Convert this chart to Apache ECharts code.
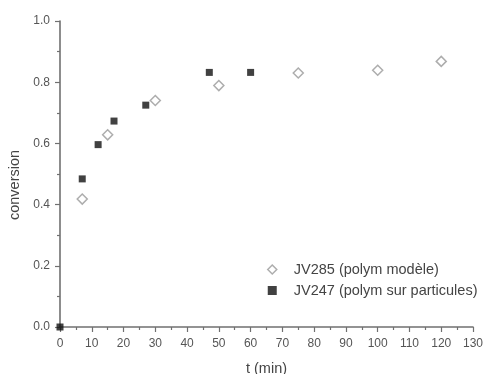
<!DOCTYPE html>
<html><head><meta charset="utf-8">
<script src="https://cdn.jsdelivr.net/npm/echarts@6/dist/echarts.min.js"></script>
<style>html,body{margin:0;padding:0;background:#fff}#c{width:485px;height:374px}</style>
</head><body><div id="c"></div>
<script>
const modeleT = [7, 15, 30, 50, 75, 100, 120];
const modeleConv = [0.418, 0.628, 0.74, 0.789, 0.83, 0.839, 0.868];
const particT = [0, 7, 12, 17, 27, 47, 60];
const particConv = [0, 0.484, 0.596, 0.673, 0.725, 0.832, 0.832];
const nameModele = 'JV285 (polym modèle)';
const nameParti = 'JV247 (polym sur particules)';

const chart = echarts.init(document.getElementById('c'), null, {renderer: 'canvas'});
const axisCol = '#707070';
const labCol = '#555';
const font = 'Liberation Sans, Arial, sans-serif';
chart.setOption({
  animation: false,
  backgroundColor: '#fff',
  grid: {left: 60, top: 21, right: 12, bottom: 47, containLabel: false, outerBoundsMode: 'none'},
  legend: {
    orient: 'vertical', left: 267, top: 262, itemWidth: 9, itemHeight: 9, itemGap: 6, padding: 0,
    textStyle: {color: '#444', fontSize: 14.5, lineHeight: 14, fontFamily: font, padding: [0, 0, 0, 12]},
    data: [
      {name: nameModele, icon: 'diamond', itemStyle: {color: '#fff', borderColor: '#999', borderWidth: 1.5}},
      {name: nameParti, icon: 'rect', itemStyle: {color: '#111'}}
    ]
  },
  xAxis: {
    type: 'value', min: 0, max: 130, interval: 10,
    name: 't (min)', nameLocation: 'middle', nameGap: 34,
    nameTextStyle: {color: '#444', fontSize: 14.5, fontFamily: font},
    axisLine: {show: true, onZero: false, lineStyle: {color: axisCol, width: 1.6}},
    axisTick: {show: true, length: 5, lineStyle: {color: axisCol, width: 1.2}},
    minorTick: {show: true, splitNumber: 2, length: 3, lineStyle: {color: axisCol, width: 1.2}},
    axisLabel: {color: labCol, fontSize: 12, fontFamily: font, margin: 11},
    splitLine: {show: false}
  },
  yAxis: {
    type: 'value', min: 0, max: 1, interval: 0.2,
    name: 'conversion', nameLocation: 'middle', nameGap: 31, nameRotate: 90,
    nameTextStyle: {color: '#444', fontSize: 14.5, fontFamily: font, padding: [0, 22, 0, 0]},
    axisLine: {show: true, onZero: false, lineStyle: {color: axisCol, width: 1.6}},
    axisTick: {show: true, length: 5, lineStyle: {color: axisCol, width: 1.2}},
    minorTick: {show: true, splitNumber: 2, length: 3, lineStyle: {color: axisCol, width: 1.2}},
    axisLabel: {color: labCol, fontSize: 12, fontFamily: font, margin: 10, formatter: v => v.toFixed(1)},
    splitLine: {show: false}
  },
  series: [
    {
      name: nameModele, type: 'scatter', symbol: 'diamond', symbolSize: 10,
      itemStyle: {color: '#fff', borderColor: '#999', borderWidth: 1.5},
      data: modeleT.map((t, i) => [t, modeleConv[i]]), z: 3
    },
    {
      name: nameParti, type: 'scatter', symbol: 'rect', symbolSize: 7,
      itemStyle: {color: '#111'},
      data: particT.map((t, i) => [t, particConv[i]]), z: 4
    }
  ]
});
</script></body></html>
